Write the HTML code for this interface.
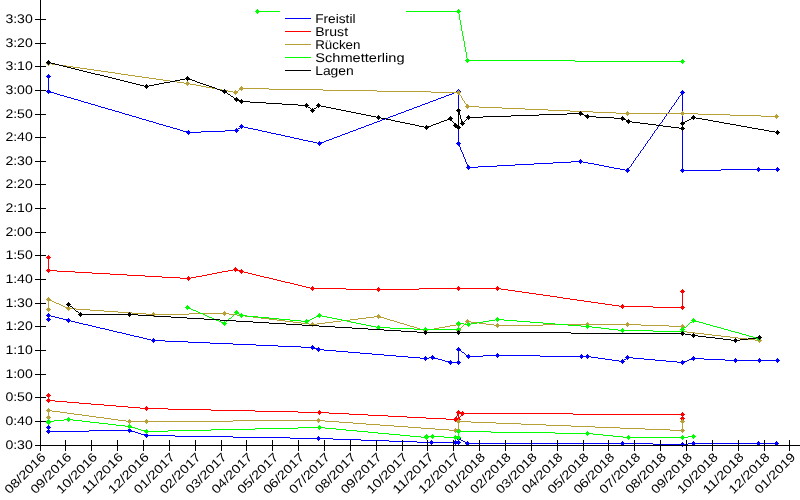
<!DOCTYPE html>
<html><head><meta charset="utf-8"><title>Chart</title>
<style>
html,body{margin:0;padding:0;background:#fff;}
body{width:800px;height:500px;overflow:hidden;}
svg{display:block;will-change:transform;}
text{text-rendering:geometricPrecision;}
text{font-family:"Liberation Sans",sans-serif;fill:#000;}
</style></head><body>
<svg width="800" height="500" viewBox="0 0 800 500">
<rect x="0" y="0" width="800" height="500" fill="#ffffff"/>
<g shape-rendering="crispEdges" stroke="none">
<path fill="#0000ff" d="M48 74h1v1h-1zM47 75h3v1h-3zM46 76h5v1h-5zM47 77h3v1h-3zM48 78h1v1h-1zM48 79h1v1h-1zM48 80h1v1h-1zM48 81h1v1h-1zM48 82h1v1h-1zM48 83h1v1h-1zM48 84h1v1h-1zM48 85h1v1h-1zM48 86h1v1h-1zM48 87h1v1h-1zM48 88h1v1h-1zM48 89h1v1h-1zM458 89h1v1h-1zM47 90h3v1h-3zM457 90h3v1h-3zM682 90h1v1h-1zM46 91h5v1h-5zM456 91h5v1h-5zM681 91h3v1h-3zM47 92h7v1h-7zM454 92h6v1h-6zM680 92h5v1h-5zM48 93h1v1h-1zM54 93h3v1h-3zM452 93h2v1h-2zM458 93h1v1h-1zM681 93h3v1h-3zM57 94h3v1h-3zM449 94h3v1h-3zM458 94h1v1h-1zM681 94h2v1h-2zM60 95h4v1h-4zM446 95h3v1h-3zM458 95h1v1h-1zM680 95h1v1h-1zM682 95h1v1h-1zM64 96h3v1h-3zM444 96h2v1h-2zM458 96h1v1h-1zM679 96h1v1h-1zM682 96h1v1h-1zM67 97h4v1h-4zM441 97h3v1h-3zM458 97h1v1h-1zM678 97h1v1h-1zM682 97h1v1h-1zM71 98h3v1h-3zM438 98h3v1h-3zM458 98h1v1h-1zM678 98h1v1h-1zM682 98h1v1h-1zM74 99h4v1h-4zM436 99h2v1h-2zM458 99h1v1h-1zM677 99h1v1h-1zM682 99h1v1h-1zM78 100h3v1h-3zM433 100h3v1h-3zM458 100h1v1h-1zM676 100h1v1h-1zM682 100h1v1h-1zM81 101h3v1h-3zM430 101h3v1h-3zM458 101h1v1h-1zM676 101h1v1h-1zM682 101h1v1h-1zM84 102h4v1h-4zM428 102h2v1h-2zM458 102h1v1h-1zM675 102h1v1h-1zM682 102h1v1h-1zM88 103h3v1h-3zM425 103h3v1h-3zM458 103h1v1h-1zM674 103h1v1h-1zM682 103h1v1h-1zM91 104h4v1h-4zM422 104h3v1h-3zM458 104h1v1h-1zM674 104h1v1h-1zM682 104h1v1h-1zM95 105h3v1h-3zM420 105h2v1h-2zM458 105h1v1h-1zM673 105h1v1h-1zM682 105h1v1h-1zM98 106h3v1h-3zM417 106h3v1h-3zM458 106h1v1h-1zM672 106h1v1h-1zM682 106h1v1h-1zM101 107h4v1h-4zM414 107h3v1h-3zM458 107h1v1h-1zM671 107h1v1h-1zM682 107h1v1h-1zM105 108h3v1h-3zM412 108h2v1h-2zM458 108h1v1h-1zM671 108h1v1h-1zM682 108h1v1h-1zM108 109h4v1h-4zM409 109h3v1h-3zM458 109h1v1h-1zM670 109h1v1h-1zM682 109h1v1h-1zM112 110h3v1h-3zM406 110h3v1h-3zM458 110h1v1h-1zM669 110h1v1h-1zM682 110h1v1h-1zM115 111h4v1h-4zM404 111h2v1h-2zM458 111h1v1h-1zM669 111h1v1h-1zM682 111h1v1h-1zM119 112h3v1h-3zM401 112h3v1h-3zM458 112h1v1h-1zM668 112h1v1h-1zM682 112h1v1h-1zM122 113h3v1h-3zM398 113h3v1h-3zM458 113h1v1h-1zM667 113h1v1h-1zM682 113h1v1h-1zM125 114h4v1h-4zM396 114h2v1h-2zM458 114h1v1h-1zM666 114h1v1h-1zM682 114h1v1h-1zM129 115h3v1h-3zM393 115h3v1h-3zM458 115h1v1h-1zM666 115h1v1h-1zM682 115h1v1h-1zM132 116h4v1h-4zM390 116h3v1h-3zM458 116h1v1h-1zM665 116h1v1h-1zM682 116h1v1h-1zM136 117h3v1h-3zM388 117h2v1h-2zM458 117h1v1h-1zM664 117h1v1h-1zM682 117h1v1h-1zM139 118h3v1h-3zM385 118h3v1h-3zM458 118h1v1h-1zM664 118h1v1h-1zM682 118h1v1h-1zM142 119h4v1h-4zM382 119h3v1h-3zM458 119h1v1h-1zM663 119h1v1h-1zM682 119h1v1h-1zM146 120h3v1h-3zM380 120h2v1h-2zM458 120h1v1h-1zM662 120h1v1h-1zM682 120h1v1h-1zM149 121h4v1h-4zM377 121h3v1h-3zM458 121h1v1h-1zM662 121h1v1h-1zM682 121h1v1h-1zM153 122h3v1h-3zM374 122h3v1h-3zM458 122h1v1h-1zM661 122h1v1h-1zM682 122h1v1h-1zM156 123h3v1h-3zM372 123h2v1h-2zM458 123h1v1h-1zM660 123h1v1h-1zM682 123h1v1h-1zM159 124h4v1h-4zM241 124h1v1h-1zM369 124h3v1h-3zM458 124h1v1h-1zM659 124h1v1h-1zM682 124h1v1h-1zM163 125h3v1h-3zM240 125h3v1h-3zM366 125h3v1h-3zM458 125h1v1h-1zM659 125h1v1h-1zM682 125h1v1h-1zM166 126h4v1h-4zM239 126h5v1h-5zM364 126h2v1h-2zM458 126h1v1h-1zM658 126h1v1h-1zM682 126h1v1h-1zM170 127h3v1h-3zM240 127h3v1h-3zM244 127h4v1h-4zM361 127h3v1h-3zM458 127h1v1h-1zM657 127h1v1h-1zM682 127h1v1h-1zM173 128h4v1h-4zM236 128h1v1h-1zM238 128h2v1h-2zM241 128h1v1h-1zM248 128h5v1h-5zM358 128h3v1h-3zM458 128h1v1h-1zM657 128h1v1h-1zM682 128h1v1h-1zM177 129h3v1h-3zM235 129h3v1h-3zM253 129h5v1h-5zM356 129h2v1h-2zM458 129h1v1h-1zM656 129h1v1h-1zM682 129h1v1h-1zM180 130h3v1h-3zM188 130h1v1h-1zM225 130h14v1h-14zM258 130h4v1h-4zM353 130h3v1h-3zM458 130h1v1h-1zM655 130h1v1h-1zM682 130h1v1h-1zM183 131h7v1h-7zM201 131h24v1h-24zM235 131h3v1h-3zM262 131h5v1h-5zM350 131h3v1h-3zM458 131h1v1h-1zM654 131h1v1h-1zM682 131h1v1h-1zM186 132h15v1h-15zM236 132h1v1h-1zM267 132h4v1h-4zM348 132h2v1h-2zM458 132h1v1h-1zM654 132h1v1h-1zM682 132h1v1h-1zM187 133h3v1h-3zM271 133h5v1h-5zM345 133h3v1h-3zM458 133h1v1h-1zM653 133h1v1h-1zM682 133h1v1h-1zM188 134h1v1h-1zM276 134h5v1h-5zM342 134h3v1h-3zM458 134h1v1h-1zM652 134h1v1h-1zM682 134h1v1h-1zM281 135h4v1h-4zM340 135h2v1h-2zM458 135h1v1h-1zM652 135h1v1h-1zM682 135h1v1h-1zM285 136h5v1h-5zM337 136h3v1h-3zM458 136h1v1h-1zM651 136h1v1h-1zM682 136h1v1h-1zM290 137h4v1h-4zM334 137h3v1h-3zM458 137h1v1h-1zM650 137h1v1h-1zM682 137h1v1h-1zM294 138h5v1h-5zM332 138h2v1h-2zM458 138h1v1h-1zM650 138h1v1h-1zM682 138h1v1h-1zM299 139h4v1h-4zM329 139h3v1h-3zM458 139h1v1h-1zM649 139h1v1h-1zM682 139h1v1h-1zM303 140h5v1h-5zM326 140h3v1h-3zM458 140h1v1h-1zM648 140h1v1h-1zM682 140h1v1h-1zM308 141h5v1h-5zM319 141h1v1h-1zM324 141h2v1h-2zM458 141h1v1h-1zM647 141h1v1h-1zM682 141h1v1h-1zM313 142h4v1h-4zM318 142h6v1h-6zM457 142h3v1h-3zM647 142h1v1h-1zM682 142h1v1h-1zM317 143h5v1h-5zM456 143h5v1h-5zM646 143h1v1h-1zM682 143h1v1h-1zM318 144h3v1h-3zM457 144h3v1h-3zM645 144h1v1h-1zM682 144h1v1h-1zM319 145h1v1h-1zM458 145h2v1h-2zM645 145h1v1h-1zM682 145h1v1h-1zM459 146h1v1h-1zM644 146h1v1h-1zM682 146h1v1h-1zM460 147h1v1h-1zM643 147h1v1h-1zM682 147h1v1h-1zM460 148h1v1h-1zM643 148h1v1h-1zM682 148h1v1h-1zM460 149h1v1h-1zM642 149h1v1h-1zM682 149h1v1h-1zM461 150h1v1h-1zM641 150h1v1h-1zM682 150h1v1h-1zM461 151h1v1h-1zM640 151h1v1h-1zM682 151h1v1h-1zM462 152h1v1h-1zM640 152h1v1h-1zM682 152h1v1h-1zM462 153h1v1h-1zM639 153h1v1h-1zM682 153h1v1h-1zM463 154h1v1h-1zM638 154h1v1h-1zM682 154h1v1h-1zM463 155h1v1h-1zM638 155h1v1h-1zM682 155h1v1h-1zM463 156h1v1h-1zM637 156h1v1h-1zM682 156h1v1h-1zM464 157h1v1h-1zM636 157h1v1h-1zM682 157h1v1h-1zM464 158h1v1h-1zM635 158h1v1h-1zM682 158h1v1h-1zM465 159h1v1h-1zM580 159h1v1h-1zM635 159h1v1h-1zM682 159h1v1h-1zM465 160h1v1h-1zM579 160h3v1h-3zM634 160h1v1h-1zM682 160h1v1h-1zM465 161h1v1h-1zM571 161h12v1h-12zM633 161h1v1h-1zM682 161h1v1h-1zM466 162h1v1h-1zM553 162h18v1h-18zM579 162h3v1h-3zM583 162h5v1h-5zM633 162h1v1h-1zM682 162h1v1h-1zM466 163h1v1h-1zM534 163h19v1h-19zM580 163h1v1h-1zM588 163h6v1h-6zM632 163h1v1h-1zM682 163h1v1h-1zM467 164h1v1h-1zM515 164h19v1h-19zM594 164h5v1h-5zM631 164h1v1h-1zM682 164h1v1h-1zM467 165h2v1h-2zM497 165h18v1h-18zM599 165h5v1h-5zM631 165h1v1h-1zM682 165h1v1h-1zM467 166h3v1h-3zM478 166h19v1h-19zM604 166h5v1h-5zM630 166h1v1h-1zM682 166h1v1h-1zM466 167h12v1h-12zM609 167h5v1h-5zM629 167h1v1h-1zM682 167h1v1h-1zM758 167h1v1h-1zM777 167h1v1h-1zM467 168h3v1h-3zM614 168h6v1h-6zM627 168h2v1h-2zM682 168h1v1h-1zM757 168h3v1h-3zM776 168h3v1h-3zM468 169h1v1h-1zM620 169h5v1h-5zM626 169h3v1h-3zM681 169h3v1h-3zM721 169h59v1h-59zM625 170h5v1h-5zM680 170h41v1h-41zM757 170h3v1h-3zM776 170h3v1h-3zM626 171h3v1h-3zM681 171h3v1h-3zM758 171h1v1h-1zM777 171h1v1h-1zM627 172h1v1h-1zM682 172h1v1h-1z"/>
<path fill="#0000ff" d="M48 313h1v1h-1zM47 314h3v1h-3zM46 315h5v1h-5zM47 316h3v1h-3zM51 316h4v1h-4zM48 317h1v1h-1zM55 317h4v1h-4zM47 318h3v1h-3zM59 318h4v1h-4zM68 318h1v1h-1zM46 319h5v1h-5zM63 319h7v1h-7zM47 320h3v1h-3zM66 320h5v1h-5zM48 321h1v1h-1zM67 321h3v1h-3zM71 321h4v1h-4zM68 322h1v1h-1zM75 322h4v1h-4zM79 323h4v1h-4zM83 324h5v1h-5zM88 325h4v1h-4zM92 326h4v1h-4zM96 327h4v1h-4zM100 328h5v1h-5zM105 329h4v1h-4zM109 330h4v1h-4zM113 331h4v1h-4zM117 332h5v1h-5zM122 333h4v1h-4zM126 334h4v1h-4zM130 335h4v1h-4zM134 336h5v1h-5zM139 337h4v1h-4zM143 338h4v1h-4zM153 338h1v1h-1zM147 339h4v1h-4zM152 339h3v1h-3zM151 340h14v1h-14zM152 341h3v1h-3zM165 341h23v1h-23zM153 342h1v1h-1zM188 342h22v1h-22zM210 343h23v1h-23zM233 344h23v1h-23zM256 345h22v1h-22zM312 345h1v1h-1zM278 346h23v1h-23zM311 346h3v1h-3zM301 347h14v1h-14zM318 347h1v1h-1zM458 347h1v1h-1zM311 348h9v1h-9zM457 348h3v1h-3zM312 349h1v1h-1zM316 349h8v1h-8zM456 349h5v1h-5zM317 350h3v1h-3zM324 350h12v1h-12zM457 350h4v1h-4zM318 351h1v1h-1zM336 351h12v1h-12zM458 351h1v1h-1zM461 351h1v1h-1zM348 352h12v1h-12zM458 352h1v1h-1zM462 352h2v1h-2zM360 353h12v1h-12zM458 353h1v1h-1zM464 353h1v1h-1zM497 353h1v1h-1zM372 354h12v1h-12zM458 354h1v1h-1zM465 354h1v1h-1zM468 354h1v1h-1zM496 354h3v1h-3zM581 354h1v1h-1zM587 354h1v1h-1zM384 355h12v1h-12zM432 355h1v1h-1zM458 355h1v1h-1zM466 355h4v1h-4zM483 355h57v1h-57zM580 355h3v1h-3zM586 355h3v1h-3zM627 355h1v1h-1zM396 356h12v1h-12zM425 356h1v1h-1zM431 356h3v1h-3zM458 356h1v1h-1zM466 356h17v1h-17zM496 356h3v1h-3zM540 356h51v1h-51zM626 356h3v1h-3zM693 356h1v1h-1zM408 357h12v1h-12zM424 357h3v1h-3zM429 357h6v1h-6zM458 357h1v1h-1zM467 357h3v1h-3zM497 357h1v1h-1zM580 357h3v1h-3zM586 357h3v1h-3zM591 357h7v1h-7zM625 357h8v1h-8zM692 357h3v1h-3zM420 358h9v1h-9zM431 358h7v1h-7zM458 358h1v1h-1zM468 358h1v1h-1zM581 358h1v1h-1zM587 358h1v1h-1zM598 358h7v1h-7zM626 358h3v1h-3zM633 358h11v1h-11zM691 358h13v1h-13zM735 358h1v1h-1zM759 358h1v1h-1zM777 358h1v1h-1zM424 359h3v1h-3zM432 359h1v1h-1zM438 359h4v1h-4zM458 359h1v1h-1zM605 359h7v1h-7zM622 359h1v1h-1zM624 359h2v1h-2zM627 359h1v1h-1zM644 359h11v1h-11zM689 359h6v1h-6zM704 359h21v1h-21zM734 359h3v1h-3zM758 359h3v1h-3zM776 359h3v1h-3zM425 360h1v1h-1zM442 360h3v1h-3zM450 360h1v1h-1zM458 360h1v1h-1zM612 360h7v1h-7zM621 360h3v1h-3zM655 360h11v1h-11zM682 360h1v1h-1zM687 360h2v1h-2zM693 360h1v1h-1zM725 360h55v1h-55zM445 361h7v1h-7zM457 361h3v1h-3zM619 361h6v1h-6zM666 361h11v1h-11zM681 361h6v1h-6zM734 361h3v1h-3zM758 361h3v1h-3zM776 361h3v1h-3zM448 362h13v1h-13zM621 362h3v1h-3zM677 362h8v1h-8zM735 362h1v1h-1zM759 362h1v1h-1zM777 362h1v1h-1zM449 363h3v1h-3zM457 363h3v1h-3zM622 363h1v1h-1zM681 363h3v1h-3zM450 364h1v1h-1zM458 364h1v1h-1zM682 364h1v1h-1z"/>
<path fill="#0000ff" d="M48 425h1v1h-1zM47 426h3v1h-3zM46 427h5v1h-5zM47 428h3v1h-3zM129 428h1v1h-1zM48 429h1v1h-1zM128 429h3v1h-3zM47 430h3v1h-3zM89 430h43v1h-43zM46 431h43v1h-43zM128 431h7v1h-7zM47 432h3v1h-3zM129 432h1v1h-1zM135 432h3v1h-3zM48 433h1v1h-1zM138 433h3v1h-3zM146 433h1v1h-1zM141 434h7v1h-7zM144 435h31v1h-31zM145 436h3v1h-3zM175 436h58v1h-58zM318 436h1v1h-1zM458 436h1v1h-1zM146 437h1v1h-1zM233 437h57v1h-57zM317 437h3v1h-3zM457 437h3v1h-3zM290 438h43v1h-43zM456 438h5v1h-5zM317 439h3v1h-3zM333 439h28v1h-28zM457 439h4v1h-4zM318 440h1v1h-1zM361 440h28v1h-28zM431 440h1v1h-1zM455 440h1v1h-1zM458 440h1v1h-1zM461 440h2v1h-2zM389 441h28v1h-28zM430 441h3v1h-3zM454 441h6v1h-6zM463 441h2v1h-2zM467 441h1v1h-1zM622 441h1v1h-1zM693 441h1v1h-1zM758 441h1v1h-1zM776 441h1v1h-1zM417 442h44v1h-44zM465 442h4v1h-4zM621 442h3v1h-3zM682 442h1v1h-1zM692 442h3v1h-3zM757 442h3v1h-3zM775 442h3v1h-3zM430 443h3v1h-3zM454 443h6v1h-6zM465 443h188v1h-188zM681 443h3v1h-3zM688 443h91v1h-91zM431 444h1v1h-1zM455 444h1v1h-1zM458 444h1v1h-1zM466 444h3v1h-3zM621 444h3v1h-3zM653 444h35v1h-35zM692 444h3v1h-3zM757 444h3v1h-3zM775 444h3v1h-3zM467 445h1v1h-1zM622 445h1v1h-1zM681 445h3v1h-3zM693 445h1v1h-1zM758 445h1v1h-1zM776 445h1v1h-1zM682 446h1v1h-1z"/>
<path fill="#ff0000" d="M48 255h1v1h-1zM47 256h3v1h-3zM46 257h5v1h-5zM47 258h3v1h-3zM48 259h1v1h-1zM48 260h1v1h-1zM48 261h1v1h-1zM48 262h1v1h-1zM48 263h1v1h-1zM48 264h1v1h-1zM48 265h1v1h-1zM48 266h1v1h-1zM48 267h1v1h-1zM235 267h1v1h-1zM48 268h1v1h-1zM234 268h3v1h-3zM47 269h3v1h-3zM233 269h5v1h-5zM241 269h1v1h-1zM46 270h11v1h-11zM228 270h5v1h-5zM234 270h9v1h-9zM47 271h3v1h-3zM57 271h18v1h-18zM222 271h6v1h-6zM235 271h1v1h-1zM239 271h5v1h-5zM48 272h1v1h-1zM75 272h17v1h-17zM217 272h5v1h-5zM240 272h3v1h-3zM244 272h4v1h-4zM92 273h18v1h-18zM212 273h5v1h-5zM241 273h1v1h-1zM248 273h4v1h-4zM110 274h17v1h-17zM207 274h5v1h-5zM252 274h4v1h-4zM127 275h18v1h-18zM202 275h5v1h-5zM256 275h4v1h-4zM145 276h17v1h-17zM188 276h1v1h-1zM196 276h6v1h-6zM260 276h4v1h-4zM162 277h18v1h-18zM187 277h3v1h-3zM191 277h5v1h-5zM264 277h5v1h-5zM180 278h11v1h-11zM269 278h4v1h-4zM187 279h3v1h-3zM273 279h4v1h-4zM188 280h1v1h-1zM277 280h4v1h-4zM281 281h4v1h-4zM285 282h5v1h-5zM290 283h4v1h-4zM294 284h4v1h-4zM298 285h4v1h-4zM302 286h4v1h-4zM312 286h1v1h-1zM458 286h1v1h-1zM497 286h1v1h-1zM306 287h4v1h-4zM311 287h3v1h-3zM378 287h1v1h-1zM457 287h3v1h-3zM496 287h3v1h-3zM310 288h36v1h-36zM377 288h3v1h-3zM419 288h82v1h-82zM311 289h3v1h-3zM346 289h73v1h-73zM457 289h3v1h-3zM496 289h3v1h-3zM501 289h7v1h-7zM682 289h1v1h-1zM312 290h1v1h-1zM377 290h3v1h-3zM458 290h1v1h-1zM497 290h1v1h-1zM508 290h7v1h-7zM681 290h3v1h-3zM378 291h1v1h-1zM515 291h7v1h-7zM680 291h5v1h-5zM522 292h7v1h-7zM681 292h3v1h-3zM529 293h7v1h-7zM682 293h1v1h-1zM536 294h7v1h-7zM682 294h1v1h-1zM543 295h7v1h-7zM682 295h1v1h-1zM550 296h7v1h-7zM682 296h1v1h-1zM557 297h6v1h-6zM682 297h1v1h-1zM563 298h7v1h-7zM682 298h1v1h-1zM570 299h7v1h-7zM682 299h1v1h-1zM577 300h7v1h-7zM682 300h1v1h-1zM584 301h7v1h-7zM682 301h1v1h-1zM591 302h7v1h-7zM682 302h1v1h-1zM598 303h7v1h-7zM682 303h1v1h-1zM605 304h7v1h-7zM622 304h1v1h-1zM682 304h1v1h-1zM612 305h7v1h-7zM621 305h3v1h-3zM682 305h1v1h-1zM619 306h34v1h-34zM681 306h3v1h-3zM621 307h3v1h-3zM653 307h32v1h-32zM622 308h1v1h-1zM681 308h3v1h-3zM682 309h1v1h-1z"/>
<path fill="#ff0000" d="M48 393h1v1h-1zM47 394h3v1h-3zM46 395h5v1h-5zM47 396h3v1h-3zM48 397h1v1h-1zM48 398h1v1h-1zM47 399h3v1h-3zM46 400h9v1h-9zM47 401h3v1h-3zM55 401h12v1h-12zM48 402h1v1h-1zM67 402h12v1h-12zM79 403h12v1h-12zM91 404h13v1h-13zM104 405h12v1h-12zM116 406h12v1h-12zM146 406h1v1h-1zM128 407h12v1h-12zM145 407h3v1h-3zM140 408h28v1h-28zM145 409h3v1h-3zM168 409h43v1h-43zM146 410h1v1h-1zM211 410h44v1h-44zM319 410h1v1h-1zM458 410h1v1h-1zM255 411h43v1h-43zM318 411h3v1h-3zM457 411h3v1h-3zM462 411h1v1h-1zM298 412h31v1h-31zM456 412h8v1h-8zM682 412h1v1h-1zM318 413h3v1h-3zM329 413h20v1h-20zM457 413h116v1h-116zM681 413h3v1h-3zM319 414h1v1h-1zM349 414h19v1h-19zM457 414h2v1h-2zM461 414h3v1h-3zM573 414h112v1h-112zM368 415h20v1h-20zM457 415h2v1h-2zM461 415h2v1h-2zM681 415h3v1h-3zM388 416h19v1h-19zM456 416h1v1h-1zM458 416h1v1h-1zM460 416h1v1h-1zM682 416h1v1h-1zM407 417h19v1h-19zM455 417h2v1h-2zM458 417h2v1h-2zM681 417h3v1h-3zM426 418h20v1h-20zM454 418h6v1h-6zM680 418h5v1h-5zM446 419h15v1h-15zM681 419h3v1h-3zM454 420h6v1h-6zM682 420h1v1h-1zM455 421h1v1h-1zM458 421h1v1h-1z"/>
<path fill="#b8a038" d="M48 61h1v1h-1zM47 62h3v1h-3zM46 63h6v1h-6zM47 64h3v1h-3zM52 64h7v1h-7zM48 65h1v1h-1zM59 65h7v1h-7zM66 66h7v1h-7zM73 67h7v1h-7zM80 68h7v1h-7zM87 69h7v1h-7zM94 70h7v1h-7zM101 71h7v1h-7zM108 72h7v1h-7zM115 73h6v1h-6zM121 74h7v1h-7zM128 75h7v1h-7zM135 76h7v1h-7zM142 77h7v1h-7zM149 78h7v1h-7zM156 79h7v1h-7zM163 80h7v1h-7zM170 81h7v1h-7zM187 81h1v1h-1zM177 82h7v1h-7zM186 82h3v1h-3zM184 83h6v1h-6zM186 84h3v1h-3zM190 84h6v1h-6zM187 85h1v1h-1zM196 85h5v1h-5zM201 86h5v1h-5zM241 86h1v1h-1zM206 87h6v1h-6zM240 87h3v1h-3zM212 88h5v1h-5zM239 88h30v1h-30zM217 89h5v1h-5zM239 89h4v1h-4zM269 89h54v1h-54zM222 90h6v1h-6zM235 90h1v1h-1zM238 90h1v1h-1zM241 90h1v1h-1zM323 90h54v1h-54zM458 90h1v1h-1zM228 91h5v1h-5zM234 91h4v1h-4zM377 91h54v1h-54zM457 91h3v1h-3zM233 92h5v1h-5zM431 92h30v1h-30zM234 93h3v1h-3zM457 93h3v1h-3zM235 94h1v1h-1zM458 94h2v1h-2zM460 95h1v1h-1zM461 96h1v1h-1zM461 97h1v1h-1zM462 98h1v1h-1zM462 99h1v1h-1zM463 100h1v1h-1zM464 101h1v1h-1zM464 102h1v1h-1zM465 103h1v1h-1zM466 104h2v1h-2zM466 105h3v1h-3zM465 106h14v1h-14zM466 107h3v1h-3zM479 107h23v1h-23zM467 108h1v1h-1zM502 108h23v1h-23zM525 109h23v1h-23zM548 110h22v1h-22zM570 111h23v1h-23zM627 111h1v1h-1zM682 111h1v1h-1zM593 112h23v1h-23zM626 112h3v1h-3zM681 112h3v1h-3zM616 113h82v1h-82zM626 114h3v1h-3zM681 114h3v1h-3zM698 114h32v1h-32zM776 114h1v1h-1zM627 115h1v1h-1zM682 115h1v1h-1zM730 115h31v1h-31zM775 115h3v1h-3zM761 116h18v1h-18zM775 117h3v1h-3zM776 118h1v1h-1z"/>
<path fill="#b8a038" d="M48 297h1v1h-1zM47 298h3v1h-3zM46 299h5v1h-5zM47 300h5v1h-5zM48 301h1v1h-1zM52 301h2v1h-2zM48 302h1v1h-1zM54 302h2v1h-2zM48 303h1v1h-1zM56 303h3v1h-3zM48 304h1v1h-1zM59 304h2v1h-2zM48 305h1v1h-1zM61 305h2v1h-2zM48 306h1v1h-1zM63 306h2v1h-2zM68 306h1v1h-1zM48 307h1v1h-1zM65 307h5v1h-5zM47 308h3v1h-3zM66 308h10v1h-10zM46 309h5v1h-5zM67 309h3v1h-3zM76 309h14v1h-14zM47 310h3v1h-3zM68 310h1v1h-1zM90 310h14v1h-14zM48 311h1v1h-1zM104 311h14v1h-14zM224 311h1v1h-1zM118 312h14v1h-14zM153 312h1v1h-1zM223 312h3v1h-3zM132 313h14v1h-14zM152 313h3v1h-3zM189 313h40v1h-40zM146 314h43v1h-43zM223 314h3v1h-3zM229 314h8v1h-8zM378 314h1v1h-1zM152 315h3v1h-3zM224 315h1v1h-1zM237 315h8v1h-8zM377 315h3v1h-3zM153 316h1v1h-1zM245 316h8v1h-8zM374 316h7v1h-7zM253 317h8v1h-8zM366 317h8v1h-8zM377 317h7v1h-7zM261 318h8v1h-8zM358 318h8v1h-8zM378 318h1v1h-1zM384 318h3v1h-3zM269 319h8v1h-8zM350 319h8v1h-8zM387 319h3v1h-3zM467 319h1v1h-1zM277 320h8v1h-8zM341 320h9v1h-9zM390 320h4v1h-4zM466 320h3v1h-3zM285 321h8v1h-8zM333 321h8v1h-8zM394 321h3v1h-3zM465 321h6v1h-6zM293 322h8v1h-8zM312 322h1v1h-1zM325 322h8v1h-8zM397 322h3v1h-3zM458 322h1v1h-1zM466 322h3v1h-3zM471 322h8v1h-8zM587 322h1v1h-1zM627 322h1v1h-1zM301 323h8v1h-8zM311 323h3v1h-3zM317 323h8v1h-8zM400 323h4v1h-4zM457 323h3v1h-3zM465 323h1v1h-1zM467 323h1v1h-1zM479 323h7v1h-7zM497 323h1v1h-1zM586 323h3v1h-3zM626 323h3v1h-3zM309 324h8v1h-8zM404 324h3v1h-3zM456 324h5v1h-5zM464 324h1v1h-1zM486 324h8v1h-8zM496 324h3v1h-3zM543 324h98v1h-98zM682 324h1v1h-1zM311 325h3v1h-3zM407 325h3v1h-3zM450 325h6v1h-6zM457 325h3v1h-3zM463 325h1v1h-1zM494 325h49v1h-49zM586 325h3v1h-3zM626 325h3v1h-3zM641 325h28v1h-28zM681 325h3v1h-3zM312 326h1v1h-1zM410 326h4v1h-4zM445 326h5v1h-5zM458 326h1v1h-1zM462 326h1v1h-1zM496 326h3v1h-3zM587 326h1v1h-1zM627 326h1v1h-1zM669 326h16v1h-16zM414 327h3v1h-3zM439 327h6v1h-6zM458 327h1v1h-1zM461 327h1v1h-1zM497 327h1v1h-1zM681 327h3v1h-3zM417 328h3v1h-3zM425 328h1v1h-1zM434 328h5v1h-5zM458 328h1v1h-1zM460 328h1v1h-1zM682 328h1v1h-1zM420 329h7v1h-7zM428 329h6v1h-6zM457 329h3v1h-3zM682 329h1v1h-1zM423 330h5v1h-5zM456 330h5v1h-5zM681 330h3v1h-3zM424 331h3v1h-3zM457 331h3v1h-3zM680 331h7v1h-7zM425 332h1v1h-1zM458 332h1v1h-1zM681 332h3v1h-3zM687 332h8v1h-8zM682 333h1v1h-1zM695 333h9v1h-9zM704 334h8v1h-8zM712 335h9v1h-9zM721 336h9v1h-9zM730 337h8v1h-8zM738 338h9v1h-9zM759 338h1v1h-1zM747 339h8v1h-8zM758 339h3v1h-3zM755 340h7v1h-7zM758 341h3v1h-3zM759 342h1v1h-1z"/>
<path fill="#b8a038" d="M48 408h1v1h-1zM47 409h3v1h-3zM46 410h6v1h-6zM47 411h3v1h-3zM52 411h8v1h-8zM48 412h1v1h-1zM60 412h7v1h-7zM48 413h1v1h-1zM67 413h7v1h-7zM48 414h1v1h-1zM74 414h8v1h-8zM48 415h1v1h-1zM82 415h7v1h-7zM47 416h3v1h-3zM89 416h7v1h-7zM46 417h5v1h-5zM96 417h8v1h-8zM47 418h3v1h-3zM104 418h7v1h-7zM318 418h1v1h-1zM48 419h1v1h-1zM111 419h7v1h-7zM129 419h1v1h-1zM146 419h1v1h-1zM317 419h3v1h-3zM458 419h1v1h-1zM682 419h1v1h-1zM118 420h8v1h-8zM128 420h3v1h-3zM145 420h3v1h-3zM233 420h92v1h-92zM457 420h3v1h-3zM681 420h3v1h-3zM126 421h107v1h-107zM317 421h3v1h-3zM325 421h14v1h-14zM456 421h15v1h-15zM680 421h5v1h-5zM128 422h3v1h-3zM145 422h3v1h-3zM318 422h1v1h-1zM339 422h14v1h-14zM457 422h3v1h-3zM471 422h25v1h-25zM681 422h3v1h-3zM129 423h1v1h-1zM146 423h1v1h-1zM353 423h13v1h-13zM458 423h1v1h-1zM496 423h25v1h-25zM682 423h1v1h-1zM366 424h14v1h-14zM458 424h1v1h-1zM521 424h25v1h-25zM682 424h1v1h-1zM380 425h14v1h-14zM458 425h1v1h-1zM546 425h25v1h-25zM682 425h1v1h-1zM394 426h14v1h-14zM458 426h1v1h-1zM571 426h24v1h-24zM682 426h1v1h-1zM408 427h13v1h-13zM458 427h1v1h-1zM595 427h25v1h-25zM682 427h1v1h-1zM421 428h14v1h-14zM455 428h1v1h-1zM458 428h1v1h-1zM620 428h25v1h-25zM682 428h1v1h-1zM435 429h14v1h-14zM454 429h6v1h-6zM645 429h25v1h-25zM681 429h3v1h-3zM449 430h12v1h-12zM670 430h15v1h-15zM454 431h6v1h-6zM681 431h3v1h-3zM455 432h1v1h-1zM458 432h1v1h-1zM682 432h1v1h-1z"/>
<path fill="#00ff00" d="M257 9h1v1h-1zM458 9h1v1h-1zM256 10h3v1h-3zM457 10h3v1h-3zM255 11h206v1h-206zM256 12h3v1h-3zM457 12h3v1h-3zM257 13h1v1h-1zM458 13h1v1h-1zM459 14h1v1h-1zM459 15h1v1h-1zM459 16h1v1h-1zM459 17h1v1h-1zM459 18h1v1h-1zM459 19h1v1h-1zM460 20h1v1h-1zM460 21h1v1h-1zM460 22h1v1h-1zM460 23h1v1h-1zM460 24h1v1h-1zM461 25h1v1h-1zM461 26h1v1h-1zM461 27h1v1h-1zM461 28h1v1h-1zM461 29h1v1h-1zM461 30h1v1h-1zM462 31h1v1h-1zM462 32h1v1h-1zM462 33h1v1h-1zM462 34h1v1h-1zM462 35h1v1h-1zM463 36h1v1h-1zM463 37h1v1h-1zM463 38h1v1h-1zM463 39h1v1h-1zM463 40h1v1h-1zM464 41h1v1h-1zM464 42h1v1h-1zM464 43h1v1h-1zM464 44h1v1h-1zM464 45h1v1h-1zM464 46h1v1h-1zM465 47h1v1h-1zM465 48h1v1h-1zM465 49h1v1h-1zM465 50h1v1h-1zM465 51h1v1h-1zM466 52h1v1h-1zM466 53h1v1h-1zM466 54h1v1h-1zM466 55h1v1h-1zM466 56h1v1h-1zM466 57h1v1h-1zM467 58h1v1h-1zM466 59h3v1h-3zM682 59h1v1h-1zM465 60h110v1h-110zM681 60h3v1h-3zM466 61h3v1h-3zM575 61h110v1h-110zM467 62h1v1h-1zM681 62h3v1h-3zM682 63h1v1h-1z"/>
<path fill="#00ff00" d="M187 305h1v1h-1zM186 306h3v1h-3zM185 307h5v1h-5zM186 308h5v1h-5zM187 309h1v1h-1zM191 309h2v1h-2zM193 310h3v1h-3zM236 310h1v1h-1zM196 311h2v1h-2zM235 311h3v1h-3zM198 312h2v1h-2zM234 312h5v1h-5zM200 313h3v1h-3zM235 313h4v1h-4zM241 313h1v1h-1zM319 313h1v1h-1zM203 314h2v1h-2zM234 314h1v1h-1zM236 314h1v1h-1zM239 314h4v1h-4zM318 314h3v1h-3zM205 315h2v1h-2zM233 315h1v1h-1zM239 315h8v1h-8zM317 315h5v1h-5zM207 316h2v1h-2zM232 316h1v1h-1zM240 316h3v1h-3zM247 316h11v1h-11zM316 316h5v1h-5zM322 316h5v1h-5zM209 317h3v1h-3zM231 317h1v1h-1zM241 317h1v1h-1zM258 317h11v1h-11zM314 317h2v1h-2zM319 317h1v1h-1zM327 317h5v1h-5zM497 317h1v1h-1zM212 318h2v1h-2zM229 318h2v1h-2zM269 318h10v1h-10zM312 318h2v1h-2zM332 318h5v1h-5zM496 318h3v1h-3zM693 318h1v1h-1zM214 319h2v1h-2zM228 319h1v1h-1zM279 319h11v1h-11zM306 319h1v1h-1zM310 319h2v1h-2zM337 319h5v1h-5zM495 319h9v1h-9zM692 319h3v1h-3zM216 320h3v1h-3zM227 320h1v1h-1zM290 320h11v1h-11zM305 320h5v1h-5zM342 320h5v1h-5zM489 320h6v1h-6zM496 320h3v1h-3zM504 320h13v1h-13zM691 320h5v1h-5zM219 321h2v1h-2zM224 321h1v1h-1zM226 321h1v1h-1zM301 321h8v1h-8zM347 321h4v1h-4zM458 321h1v1h-1zM483 321h6v1h-6zM497 321h1v1h-1zM517 321h13v1h-13zM692 321h7v1h-7zM221 322h5v1h-5zM305 322h3v1h-3zM351 322h5v1h-5zM457 322h3v1h-3zM468 322h1v1h-1zM477 322h6v1h-6zM530 322h13v1h-13zM690 322h2v1h-2zM693 322h1v1h-1zM699 322h4v1h-4zM222 323h5v1h-5zM306 323h1v1h-1zM356 323h5v1h-5zM456 323h8v1h-8zM467 323h3v1h-3zM471 323h6v1h-6zM543 323h12v1h-12zM689 323h1v1h-1zM703 323h3v1h-3zM223 324h3v1h-3zM361 324h5v1h-5zM457 324h3v1h-3zM464 324h7v1h-7zM555 324h13v1h-13zM587 324h1v1h-1zM688 324h1v1h-1zM706 324h4v1h-4zM224 325h1v1h-1zM366 325h5v1h-5zM378 325h1v1h-1zM458 325h1v1h-1zM467 325h3v1h-3zM568 325h13v1h-13zM586 325h3v1h-3zM687 325h1v1h-1zM710 325h3v1h-3zM371 326h5v1h-5zM377 326h3v1h-3zM458 326h1v1h-1zM468 326h1v1h-1zM581 326h11v1h-11zM686 326h1v1h-1zM713 326h4v1h-4zM376 327h14v1h-14zM425 327h1v1h-1zM458 327h1v1h-1zM586 327h3v1h-3zM592 327h9v1h-9zM682 327h1v1h-1zM684 327h2v1h-2zM717 327h4v1h-4zM377 328h3v1h-3zM390 328h24v1h-24zM424 328h3v1h-3zM457 328h3v1h-3zM587 328h1v1h-1zM601 328h8v1h-8zM622 328h1v1h-1zM681 328h3v1h-3zM721 328h3v1h-3zM378 329h1v1h-1zM414 329h47v1h-47zM609 329h9v1h-9zM621 329h3v1h-3zM680 329h5v1h-5zM724 329h4v1h-4zM424 330h3v1h-3zM457 330h3v1h-3zM618 330h35v1h-35zM681 330h3v1h-3zM728 330h3v1h-3zM425 331h1v1h-1zM458 331h1v1h-1zM621 331h3v1h-3zM653 331h32v1h-32zM731 331h4v1h-4zM622 332h1v1h-1zM681 332h3v1h-3zM735 332h4v1h-4zM682 333h1v1h-1zM739 333h3v1h-3zM742 334h4v1h-4zM746 335h3v1h-3zM749 336h4v1h-4zM758 336h1v1h-1zM753 337h7v1h-7zM756 338h5v1h-5zM757 339h3v1h-3zM758 340h1v1h-1z"/>
<path fill="#00ff00" d="M68 417h1v1h-1zM67 418h3v1h-3zM48 419h1v1h-1zM64 419h9v1h-9zM47 420h3v1h-3zM54 420h10v1h-10zM67 420h3v1h-3zM73 420h9v1h-9zM46 421h8v1h-8zM68 421h1v1h-1zM82 421h8v1h-8zM46 422h5v1h-5zM90 422h9v1h-9zM47 423h3v1h-3zM99 423h9v1h-9zM48 424h1v1h-1zM108 424h8v1h-8zM129 424h1v1h-1zM116 425h9v1h-9zM128 425h3v1h-3zM319 425h1v1h-1zM125 426h7v1h-7zM318 426h3v1h-3zM128 427h7v1h-7zM298 427h27v1h-27zM129 428h1v1h-1zM135 428h3v1h-3zM255 428h43v1h-43zM318 428h3v1h-3zM325 428h11v1h-11zM138 429h3v1h-3zM146 429h1v1h-1zM211 429h44v1h-44zM319 429h1v1h-1zM336 429h10v1h-10zM458 429h1v1h-1zM141 430h7v1h-7zM168 430h43v1h-43zM346 430h11v1h-11zM457 430h3v1h-3zM144 431h24v1h-24zM357 431h11v1h-11zM456 431h35v1h-35zM587 431h1v1h-1zM145 432h3v1h-3zM368 432h10v1h-10zM457 432h3v1h-3zM491 432h64v1h-64zM586 432h3v1h-3zM146 433h1v1h-1zM378 433h11v1h-11zM458 433h1v1h-1zM555 433h38v1h-38zM389 434h11v1h-11zM426 434h1v1h-1zM432 434h1v1h-1zM458 434h1v1h-1zM586 434h3v1h-3zM593 434h10v1h-10zM693 434h1v1h-1zM400 435h10v1h-10zM425 435h3v1h-3zM431 435h3v1h-3zM455 435h1v1h-1zM458 435h1v1h-1zM587 435h1v1h-1zM603 435h10v1h-10zM628 435h1v1h-1zM682 435h1v1h-1zM692 435h3v1h-3zM410 436h11v1h-11zM424 436h20v1h-20zM454 436h6v1h-6zM613 436h10v1h-10zM627 436h3v1h-3zM681 436h3v1h-3zM688 436h8v1h-8zM421 437h8v1h-8zM431 437h3v1h-3zM444 437h17v1h-17zM623 437h65v1h-65zM692 437h3v1h-3zM425 438h3v1h-3zM432 438h1v1h-1zM454 438h6v1h-6zM627 438h3v1h-3zM681 438h3v1h-3zM693 438h1v1h-1zM426 439h1v1h-1zM455 439h1v1h-1zM458 439h1v1h-1zM628 439h1v1h-1zM682 439h1v1h-1z"/>
<path fill="#000000" d="M48 60h1v1h-1zM47 61h3v1h-3zM46 62h5v1h-5zM47 63h3v1h-3zM51 63h4v1h-4zM48 64h1v1h-1zM55 64h4v1h-4zM59 65h4v1h-4zM63 66h4v1h-4zM67 67h4v1h-4zM71 68h4v1h-4zM75 69h4v1h-4zM79 70h4v1h-4zM83 71h4v1h-4zM87 72h4v1h-4zM91 73h4v1h-4zM95 74h5v1h-5zM100 75h4v1h-4zM104 76h4v1h-4zM187 76h1v1h-1zM108 77h4v1h-4zM186 77h3v1h-3zM112 78h4v1h-4zM185 78h5v1h-5zM116 79h4v1h-4zM180 79h5v1h-5zM186 79h6v1h-6zM120 80h4v1h-4zM175 80h5v1h-5zM187 80h1v1h-1zM192 80h3v1h-3zM124 81h4v1h-4zM170 81h5v1h-5zM195 81h2v1h-2zM128 82h4v1h-4zM164 82h6v1h-6zM197 82h3v1h-3zM132 83h4v1h-4zM159 83h5v1h-5zM200 83h3v1h-3zM136 84h4v1h-4zM146 84h1v1h-1zM154 84h5v1h-5zM203 84h3v1h-3zM140 85h4v1h-4zM145 85h3v1h-3zM149 85h5v1h-5zM206 85h3v1h-3zM144 86h5v1h-5zM209 86h3v1h-3zM145 87h3v1h-3zM212 87h3v1h-3zM146 88h1v1h-1zM215 88h2v1h-2zM217 89h3v1h-3zM224 89h1v1h-1zM220 90h6v1h-6zM222 91h5v1h-5zM223 92h4v1h-4zM224 93h1v1h-1zM227 93h1v1h-1zM228 94h2v1h-2zM230 95h1v1h-1zM231 96h2v1h-2zM233 97h1v1h-1zM236 97h1v1h-1zM234 98h4v1h-4zM234 99h5v1h-5zM241 99h1v1h-1zM235 100h8v1h-8zM236 101h1v1h-1zM239 101h11v1h-11zM240 102h3v1h-3zM250 102h16v1h-16zM241 103h1v1h-1zM266 103h16v1h-16zM306 103h1v1h-1zM318 103h1v1h-1zM282 104h16v1h-16zM305 104h3v1h-3zM317 104h3v1h-3zM298 105h11v1h-11zM316 105h5v1h-5zM305 106h3v1h-3zM317 106h3v1h-3zM321 106h5v1h-5zM306 107h1v1h-1zM308 107h2v1h-2zM316 107h1v1h-1zM318 107h1v1h-1zM326 107h5v1h-5zM310 108h1v1h-1zM312 108h1v1h-1zM314 108h2v1h-2zM331 108h5v1h-5zM458 108h1v1h-1zM311 109h3v1h-3zM336 109h5v1h-5zM457 109h3v1h-3zM310 110h5v1h-5zM341 110h5v1h-5zM456 110h5v1h-5zM311 111h3v1h-3zM346 111h5v1h-5zM457 111h3v1h-3zM580 111h1v1h-1zM312 112h1v1h-1zM351 112h5v1h-5zM458 112h2v1h-2zM579 112h3v1h-3zM356 113h5v1h-5zM458 113h2v1h-2zM567 113h16v1h-16zM361 114h5v1h-5zM458 114h2v1h-2zM539 114h28v1h-28zM579 114h5v1h-5zM587 114h1v1h-1zM366 115h5v1h-5zM378 115h1v1h-1zM458 115h1v1h-1zM460 115h1v1h-1zM468 115h1v1h-1zM511 115h28v1h-28zM580 115h1v1h-1zM584 115h5v1h-5zM693 115h1v1h-1zM371 116h5v1h-5zM377 116h3v1h-3zM450 116h1v1h-1zM458 116h1v1h-1zM460 116h1v1h-1zM467 116h3v1h-3zM483 116h28v1h-28zM585 116h11v1h-11zM622 116h1v1h-1zM692 116h3v1h-3zM376 117h5v1h-5zM449 117h3v1h-3zM458 117h1v1h-1zM460 117h1v1h-1zM466 117h17v1h-17zM586 117h3v1h-3zM596 117h18v1h-18zM621 117h3v1h-3zM691 117h5v1h-5zM377 118h3v1h-3zM381 118h5v1h-5zM448 118h5v1h-5zM458 118h1v1h-1zM460 118h1v1h-1zM467 118h3v1h-3zM587 118h1v1h-1zM614 118h11v1h-11zM691 118h4v1h-4zM696 118h6v1h-6zM378 119h1v1h-1zM386 119h5v1h-5zM447 119h5v1h-5zM458 119h1v1h-1zM461 119h1v1h-1zM466 119h1v1h-1zM468 119h1v1h-1zM621 119h5v1h-5zM628 119h1v1h-1zM689 119h2v1h-2zM693 119h1v1h-1zM702 119h6v1h-6zM391 120h4v1h-4zM444 120h3v1h-3zM450 120h2v1h-2zM458 120h1v1h-1zM461 120h1v1h-1zM465 120h1v1h-1zM622 120h1v1h-1zM626 120h4v1h-4zM687 120h2v1h-2zM708 120h5v1h-5zM395 121h5v1h-5zM441 121h3v1h-3zM452 121h1v1h-1zM458 121h1v1h-1zM461 121h2v1h-2zM464 121h1v1h-1zM626 121h6v1h-6zM682 121h1v1h-1zM685 121h2v1h-2zM713 121h6v1h-6zM400 122h5v1h-5zM439 122h2v1h-2zM453 122h1v1h-1zM458 122h1v1h-1zM461 122h3v1h-3zM627 122h3v1h-3zM632 122h8v1h-8zM681 122h4v1h-4zM719 122h5v1h-5zM405 123h5v1h-5zM436 123h3v1h-3zM454 123h2v1h-2zM458 123h1v1h-1zM460 123h5v1h-5zM628 123h1v1h-1zM640 123h8v1h-8zM680 123h5v1h-5zM724 123h6v1h-6zM410 124h5v1h-5zM433 124h3v1h-3zM454 124h3v1h-3zM458 124h1v1h-1zM461 124h3v1h-3zM648 124h8v1h-8zM681 124h3v1h-3zM730 124h6v1h-6zM415 125h4v1h-4zM426 125h1v1h-1zM431 125h2v1h-2zM453 125h6v1h-6zM462 125h1v1h-1zM656 125h7v1h-7zM682 125h1v1h-1zM736 125h5v1h-5zM419 126h5v1h-5zM425 126h6v1h-6zM454 126h6v1h-6zM663 126h8v1h-8zM682 126h1v1h-1zM741 126h6v1h-6zM424 127h5v1h-5zM455 127h6v1h-6zM671 127h8v1h-8zM681 127h3v1h-3zM747 127h5v1h-5zM425 128h3v1h-3zM457 128h3v1h-3zM679 128h6v1h-6zM752 128h6v1h-6zM426 129h1v1h-1zM458 129h1v1h-1zM681 129h3v1h-3zM758 129h6v1h-6zM682 130h1v1h-1zM764 130h5v1h-5zM777 130h1v1h-1zM769 131h6v1h-6zM776 131h3v1h-3zM775 132h5v1h-5zM776 133h3v1h-3zM777 134h1v1h-1z"/>
<path fill="#000000" d="M68 302h1v1h-1zM67 303h3v1h-3zM66 304h5v1h-5zM67 305h3v1h-3zM68 306h1v1h-1zM70 306h2v1h-2zM72 307h1v1h-1zM73 308h1v1h-1zM74 309h1v1h-1zM75 310h1v1h-1zM76 311h2v1h-2zM78 312h1v1h-1zM80 312h1v1h-1zM129 312h1v1h-1zM79 313h3v1h-3zM128 313h3v1h-3zM78 314h60v1h-60zM79 315h3v1h-3zM128 315h3v1h-3zM138 315h16v1h-16zM80 316h1v1h-1zM129 316h1v1h-1zM154 316h17v1h-17zM171 317h16v1h-16zM187 318h17v1h-17zM204 319h16v1h-16zM220 320h16v1h-16zM236 321h17v1h-17zM253 322h16v1h-16zM269 323h17v1h-17zM286 324h16v1h-16zM302 325h17v1h-17zM319 326h16v1h-16zM335 327h17v1h-17zM352 328h16v1h-16zM368 329h16v1h-16zM384 330h17v1h-17zM425 330h1v1h-1zM458 330h1v1h-1zM401 331h16v1h-16zM424 331h3v1h-3zM457 331h3v1h-3zM682 331h1v1h-1zM417 332h154v1h-154zM681 332h3v1h-3zM424 333h3v1h-3zM457 333h3v1h-3zM571 333h114v1h-114zM693 333h1v1h-1zM425 334h1v1h-1zM458 334h1v1h-1zM681 334h3v1h-3zM685 334h6v1h-6zM692 334h3v1h-3zM682 335h1v1h-1zM691 335h7v1h-7zM759 335h1v1h-1zM692 336h3v1h-3zM698 336h8v1h-8zM758 336h3v1h-3zM693 337h1v1h-1zM706 337h9v1h-9zM756 337h6v1h-6zM715 338h8v1h-8zM735 338h1v1h-1zM748 338h8v1h-8zM758 338h3v1h-3zM723 339h8v1h-8zM734 339h3v1h-3zM740 339h8v1h-8zM759 339h1v1h-1zM731 340h9v1h-9zM734 341h3v1h-3zM735 342h1v1h-1z"/>
</g>
<rect x="280" y="4" width="126" height="74" fill="#ffffff"/>
<g shape-rendering="crispEdges" stroke-width="1">
<line x1="285" y1="18.5" x2="311" y2="18.5" stroke="#0000ff"/>
<line x1="285" y1="31.5" x2="311" y2="31.5" stroke="#ff0000"/>
<line x1="285" y1="44.5" x2="311" y2="44.5" stroke="#b8a038"/>
<line x1="285" y1="57.5" x2="311" y2="57.5" stroke="#00ff00"/>
<line x1="285" y1="70.5" x2="311" y2="70.5" stroke="#000000"/>
</g>
<g font-size="12.6">
<text x="315.2" y="22.6" textLength="40.3" lengthAdjust="spacingAndGlyphs">Freistil</text>
<text x="315.2" y="35.6" textLength="32.9" lengthAdjust="spacingAndGlyphs">Brust</text>
<text x="315.2" y="48.6" textLength="45.3" lengthAdjust="spacingAndGlyphs">Rücken</text>
<text x="315.2" y="61.6" textLength="89.4" lengthAdjust="spacingAndGlyphs">Schmetterling</text>
<text x="315.2" y="74.6" textLength="38.6" lengthAdjust="spacingAndGlyphs">Lagen</text>
</g>
<g shape-rendering="crispEdges" stroke="#000" stroke-width="1">
<line x1="40.5" y1="0" x2="40.5" y2="451"/>
<line x1="35" y1="445.5" x2="800" y2="445.5"/>
<line x1="35" y1="445.5" x2="46" y2="445.5"/>
<line x1="35" y1="421.5" x2="46" y2="421.5"/>
<line x1="35" y1="397.5" x2="46" y2="397.5"/>
<line x1="35" y1="374.5" x2="46" y2="374.5"/>
<line x1="35" y1="350.5" x2="46" y2="350.5"/>
<line x1="35" y1="326.5" x2="46" y2="326.5"/>
<line x1="35" y1="303.5" x2="46" y2="303.5"/>
<line x1="35" y1="279.5" x2="46" y2="279.5"/>
<line x1="35" y1="255.5" x2="46" y2="255.5"/>
<line x1="35" y1="232.5" x2="46" y2="232.5"/>
<line x1="35" y1="208.5" x2="46" y2="208.5"/>
<line x1="35" y1="184.5" x2="46" y2="184.5"/>
<line x1="35" y1="161.5" x2="46" y2="161.5"/>
<line x1="35" y1="137.5" x2="46" y2="137.5"/>
<line x1="35" y1="114.5" x2="46" y2="114.5"/>
<line x1="35" y1="90.5" x2="46" y2="90.5"/>
<line x1="35" y1="66.5" x2="46" y2="66.5"/>
<line x1="35" y1="43.5" x2="46" y2="43.5"/>
<line x1="35" y1="19.5" x2="46" y2="19.5"/>
<line x1="40.5" y1="440" x2="40.5" y2="451"/>
<line x1="65.5" y1="440" x2="65.5" y2="451"/>
<line x1="91.5" y1="440" x2="91.5" y2="451"/>
<line x1="117.5" y1="440" x2="117.5" y2="451"/>
<line x1="143.5" y1="440" x2="143.5" y2="451"/>
<line x1="169.5" y1="440" x2="169.5" y2="451"/>
<line x1="195.5" y1="440" x2="195.5" y2="451"/>
<line x1="221.5" y1="440" x2="221.5" y2="451"/>
<line x1="246.5" y1="440" x2="246.5" y2="451"/>
<line x1="272.5" y1="440" x2="272.5" y2="451"/>
<line x1="298.5" y1="440" x2="298.5" y2="451"/>
<line x1="324.5" y1="440" x2="324.5" y2="451"/>
<line x1="350.5" y1="440" x2="350.5" y2="451"/>
<line x1="376.5" y1="440" x2="376.5" y2="451"/>
<line x1="402.5" y1="440" x2="402.5" y2="451"/>
<line x1="427.5" y1="440" x2="427.5" y2="451"/>
<line x1="453.5" y1="440" x2="453.5" y2="451"/>
<line x1="479.5" y1="440" x2="479.5" y2="451"/>
<line x1="505.5" y1="440" x2="505.5" y2="451"/>
<line x1="531.5" y1="440" x2="531.5" y2="451"/>
<line x1="557.5" y1="440" x2="557.5" y2="451"/>
<line x1="583.5" y1="440" x2="583.5" y2="451"/>
<line x1="608.5" y1="440" x2="608.5" y2="451"/>
<line x1="634.5" y1="440" x2="634.5" y2="451"/>
<line x1="660.5" y1="440" x2="660.5" y2="451"/>
<line x1="686.5" y1="440" x2="686.5" y2="451"/>
<line x1="712.5" y1="440" x2="712.5" y2="451"/>
<line x1="738.5" y1="440" x2="738.5" y2="451"/>
<line x1="764.5" y1="440" x2="764.5" y2="451"/>
<line x1="789.5" y1="440" x2="789.5" y2="451"/>
</g>
<g font-size="12.5" text-anchor="end">
<text x="32.8" y="449.2" textLength="27.4" lengthAdjust="spacingAndGlyphs">0:30</text>
<text x="32.8" y="425.2" textLength="27.4" lengthAdjust="spacingAndGlyphs">0:40</text>
<text x="32.8" y="401.2" textLength="27.4" lengthAdjust="spacingAndGlyphs">0:50</text>
<text x="32.8" y="378.2" textLength="27.4" lengthAdjust="spacingAndGlyphs">1:00</text>
<text x="32.8" y="354.2" textLength="27.4" lengthAdjust="spacingAndGlyphs">1:10</text>
<text x="32.8" y="330.2" textLength="27.4" lengthAdjust="spacingAndGlyphs">1:20</text>
<text x="32.8" y="307.2" textLength="27.4" lengthAdjust="spacingAndGlyphs">1:30</text>
<text x="32.8" y="283.2" textLength="27.4" lengthAdjust="spacingAndGlyphs">1:40</text>
<text x="32.8" y="259.2" textLength="27.4" lengthAdjust="spacingAndGlyphs">1:50</text>
<text x="32.8" y="236.2" textLength="27.4" lengthAdjust="spacingAndGlyphs">2:00</text>
<text x="32.8" y="212.2" textLength="27.4" lengthAdjust="spacingAndGlyphs">2:10</text>
<text x="32.8" y="188.2" textLength="27.4" lengthAdjust="spacingAndGlyphs">2:20</text>
<text x="32.8" y="165.2" textLength="27.4" lengthAdjust="spacingAndGlyphs">2:30</text>
<text x="32.8" y="141.2" textLength="27.4" lengthAdjust="spacingAndGlyphs">2:40</text>
<text x="32.8" y="118.2" textLength="27.4" lengthAdjust="spacingAndGlyphs">2:50</text>
<text x="32.8" y="94.2" textLength="27.4" lengthAdjust="spacingAndGlyphs">3:00</text>
<text x="32.8" y="70.2" textLength="27.4" lengthAdjust="spacingAndGlyphs">3:10</text>
<text x="32.8" y="47.2" textLength="27.4" lengthAdjust="spacingAndGlyphs">3:20</text>
<text x="32.8" y="23.2" textLength="27.4" lengthAdjust="spacingAndGlyphs">3:30</text>
</g>
<g font-size="12.3" text-anchor="end">
<text transform="translate(46.3,457.8) rotate(-45)" x="0" y="0" textLength="52" lengthAdjust="spacingAndGlyphs">08/2016</text>
<text transform="translate(72.16,457.8) rotate(-45)" x="0" y="0" textLength="52" lengthAdjust="spacingAndGlyphs">09/2016</text>
<text transform="translate(98.02,457.8) rotate(-45)" x="0" y="0" textLength="52" lengthAdjust="spacingAndGlyphs">10/2016</text>
<text transform="translate(123.88,457.8) rotate(-45)" x="0" y="0" textLength="52" lengthAdjust="spacingAndGlyphs">11/2016</text>
<text transform="translate(149.74,457.8) rotate(-45)" x="0" y="0" textLength="52" lengthAdjust="spacingAndGlyphs">12/2016</text>
<text transform="translate(175.6,457.8) rotate(-45)" x="0" y="0" textLength="52" lengthAdjust="spacingAndGlyphs">01/2017</text>
<text transform="translate(201.46,457.8) rotate(-45)" x="0" y="0" textLength="52" lengthAdjust="spacingAndGlyphs">02/2017</text>
<text transform="translate(227.32,457.8) rotate(-45)" x="0" y="0" textLength="52" lengthAdjust="spacingAndGlyphs">03/2017</text>
<text transform="translate(253.18,457.8) rotate(-45)" x="0" y="0" textLength="52" lengthAdjust="spacingAndGlyphs">04/2017</text>
<text transform="translate(279.04,457.8) rotate(-45)" x="0" y="0" textLength="52" lengthAdjust="spacingAndGlyphs">05/2017</text>
<text transform="translate(304.9,457.8) rotate(-45)" x="0" y="0" textLength="52" lengthAdjust="spacingAndGlyphs">06/2017</text>
<text transform="translate(330.76,457.8) rotate(-45)" x="0" y="0" textLength="52" lengthAdjust="spacingAndGlyphs">07/2017</text>
<text transform="translate(356.62,457.8) rotate(-45)" x="0" y="0" textLength="52" lengthAdjust="spacingAndGlyphs">08/2017</text>
<text transform="translate(382.48,457.8) rotate(-45)" x="0" y="0" textLength="52" lengthAdjust="spacingAndGlyphs">09/2017</text>
<text transform="translate(408.34,457.8) rotate(-45)" x="0" y="0" textLength="52" lengthAdjust="spacingAndGlyphs">10/2017</text>
<text transform="translate(434.2,457.8) rotate(-45)" x="0" y="0" textLength="52" lengthAdjust="spacingAndGlyphs">11/2017</text>
<text transform="translate(460.06,457.8) rotate(-45)" x="0" y="0" textLength="52" lengthAdjust="spacingAndGlyphs">12/2017</text>
<text transform="translate(485.92,457.8) rotate(-45)" x="0" y="0" textLength="52" lengthAdjust="spacingAndGlyphs">01/2018</text>
<text transform="translate(511.78,457.8) rotate(-45)" x="0" y="0" textLength="52" lengthAdjust="spacingAndGlyphs">02/2018</text>
<text transform="translate(537.64,457.8) rotate(-45)" x="0" y="0" textLength="52" lengthAdjust="spacingAndGlyphs">03/2018</text>
<text transform="translate(563.5,457.8) rotate(-45)" x="0" y="0" textLength="52" lengthAdjust="spacingAndGlyphs">04/2018</text>
<text transform="translate(589.36,457.8) rotate(-45)" x="0" y="0" textLength="52" lengthAdjust="spacingAndGlyphs">05/2018</text>
<text transform="translate(615.22,457.8) rotate(-45)" x="0" y="0" textLength="52" lengthAdjust="spacingAndGlyphs">06/2018</text>
<text transform="translate(641.08,457.8) rotate(-45)" x="0" y="0" textLength="52" lengthAdjust="spacingAndGlyphs">07/2018</text>
<text transform="translate(666.94,457.8) rotate(-45)" x="0" y="0" textLength="52" lengthAdjust="spacingAndGlyphs">08/2018</text>
<text transform="translate(692.8,457.8) rotate(-45)" x="0" y="0" textLength="52" lengthAdjust="spacingAndGlyphs">09/2018</text>
<text transform="translate(718.66,457.8) rotate(-45)" x="0" y="0" textLength="52" lengthAdjust="spacingAndGlyphs">10/2018</text>
<text transform="translate(744.52,457.8) rotate(-45)" x="0" y="0" textLength="52" lengthAdjust="spacingAndGlyphs">11/2018</text>
<text transform="translate(770.38,457.8) rotate(-45)" x="0" y="0" textLength="52" lengthAdjust="spacingAndGlyphs">12/2018</text>
<text transform="translate(796.24,457.8) rotate(-45)" x="0" y="0" textLength="52" lengthAdjust="spacingAndGlyphs">01/2019</text>
</g>
</svg>
</body></html>
